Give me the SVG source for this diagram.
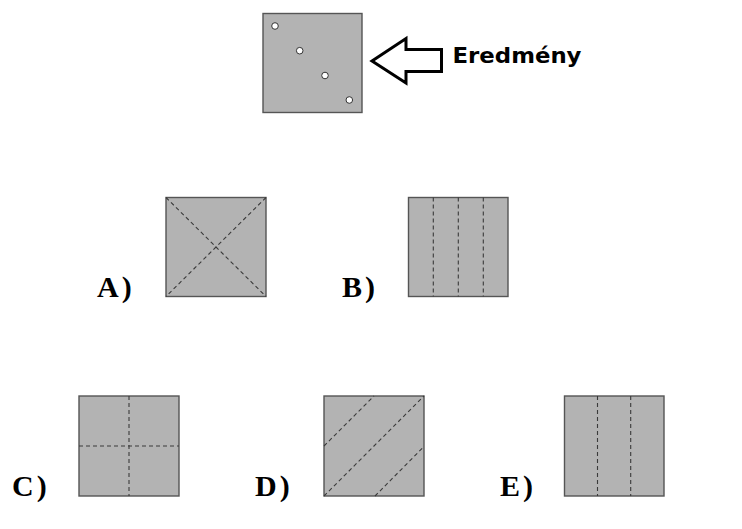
<svg xmlns="http://www.w3.org/2000/svg" width="742" height="529" viewBox="0 0 742 529">
<style>
.sq{fill:#b3b3b3;stroke:#555;stroke-width:1.4}
.fold{stroke:#3a3a3a;stroke-width:1.1;stroke-dasharray:4 3;fill:none}
.hole{fill:#fff;stroke:#333;stroke-width:1}
.lbl{font-family:"Liberation Serif","Times New Roman",serif;font-weight:bold;font-size:30px;fill:#000;letter-spacing:3px}
.cap{font-family:"DejaVu Sans","Liberation Sans",sans-serif;font-weight:bold;font-size:22px;fill:#000}
</style>
<rect width="742" height="529" fill="#fff"/>
<g id="result">
<rect class="sq" x="263" y="13.5" width="99" height="99"/>
<circle class="hole" cx="275" cy="26" r="3.3"/>
<circle class="hole" cx="299.7" cy="50.7" r="3.3"/>
<circle class="hole" cx="325" cy="75.5" r="3.3"/>
<circle class="hole" cx="349.3" cy="100" r="3.3"/>
</g>
<g id="connectors">
<path d="M372,61 L406,38.5 L406,49.5 L441.5,49.5 L441.5,71.5 L406,71.5 L406,83 Z" fill="#fff" stroke="#000" stroke-width="3" stroke-linejoin="miter"/>
</g>
<g id="caption">
<text class="cap" x="452.5" y="63.3" textLength="129" lengthAdjust="spacingAndGlyphs">Eredmény</text>
</g>
<g id="optA">
<text class="lbl" x="97" y="296.7">A)</text>
<rect class="sq" x="166" y="197.5" width="100" height="99"/>
<line class="fold" x1="166" y1="197.5" x2="266" y2="296.5"/>
<line class="fold" x1="266" y1="197.5" x2="166" y2="296.5"/>
</g>
<g id="optB">
<text class="lbl" x="342" y="296.7">B)</text>
<rect class="sq" x="408.5" y="197.5" width="99.5" height="99"/>
<line class="fold" x1="433.3" y1="197.5" x2="433.3" y2="296.5"/>
<line class="fold" x1="458.3" y1="197.5" x2="458.3" y2="296.5"/>
<line class="fold" x1="483.3" y1="197.5" x2="483.3" y2="296.5"/>
</g>
<g id="optC">
<text class="lbl" x="12" y="495.5">C)</text>
<rect class="sq" x="79" y="396" width="100" height="100"/>
<line class="fold" x1="129" y1="396" x2="129" y2="496"/>
<line class="fold" x1="79" y1="446" x2="179" y2="446"/>
</g>
<g id="optD">
<text class="lbl" x="255" y="495.5">D)</text>
<rect class="sq" x="324" y="396" width="100" height="100"/>
<line class="fold" x1="324" y1="496" x2="424" y2="396"/>
<line class="fold" x1="324" y1="446" x2="374" y2="396"/>
<line class="fold" x1="375" y1="496" x2="424" y2="446.5"/>
</g>
<g id="optE">
<text class="lbl" x="500" y="495.5">E)</text>
<rect class="sq" x="564.5" y="396" width="99.5" height="100"/>
<line class="fold" x1="597.5" y1="396" x2="597.5" y2="496"/>
<line class="fold" x1="630.7" y1="396" x2="630.7" y2="496"/>
</g>
</svg>
